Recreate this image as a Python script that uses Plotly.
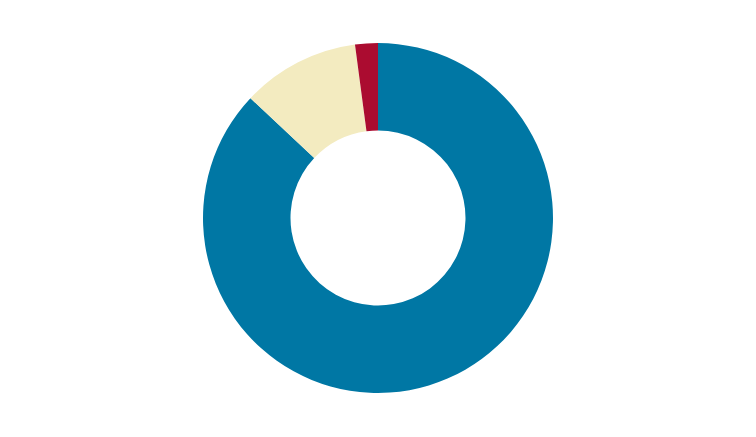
import plotly.graph_objects as go

labels = ["Blue", "Beige", "Red"]
values = [87.0, 10.9, 2.1]
colors = ["#0077A4", "#F3EBC0", "#AB0C30"]

fig = go.Figure(go.Pie(
    labels=labels,
    values=values,
    hole=0.5,
    sort=False,
    direction="clockwise",
    rotation=0,
    marker=dict(colors=colors, line=dict(width=0)),
    textinfo="none",
    hoverinfo="label+percent",
))
fig.update_layout(
    width=756,
    height=437,
    showlegend=False,
    margin=dict(l=92, r=108, t=35, b=52),
    paper_bgcolor="white",
    plot_bgcolor="white",
)
fig.write_html("out.html")
